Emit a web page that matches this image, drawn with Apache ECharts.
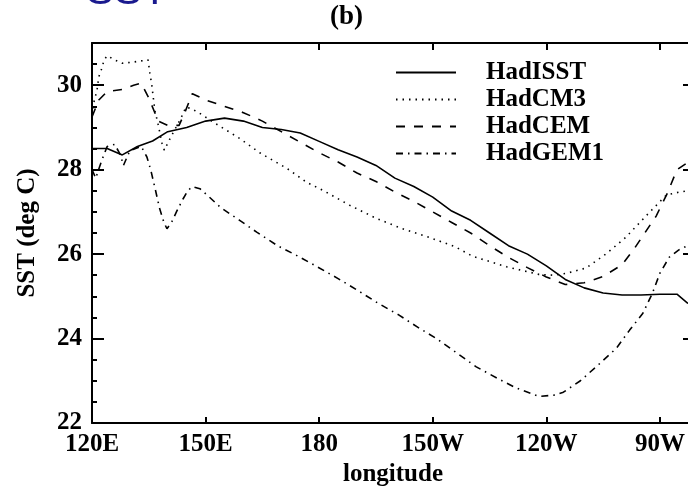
<!DOCTYPE html>
<html>
<head>
<meta charset="utf-8">
<script src="https://cdn.jsdelivr.net/npm/echarts@6/dist/echarts.min.js"></script>
<style>
  html, body { margin: 0; padding: 0; background: #fff; }
  #chart { width: 688px; height: 489px; }
</style>
</head>
<body>
<div id="chart"></div>
<script>
// longitude in degrees east, 120E .. ~81W
const xTickValues = [120, 150, 180, 210, 240, 270]
const xTickLabels = ['120E', '150E', '180', '150W', '120W', '90W']
const yTickLabels = [22, 24, 26, 28, 30]

const hadisstLon = [120, 124, 128, 132, 136, 140, 145, 150, 155, 160, 165, 170, 175, 180, 185, 190, 195, 200, 205, 210, 215, 220, 225, 230, 235, 240, 245, 250, 255, 260, 265, 270, 274.5, 277.3, 279]
const hadisstVal = [28.5, 28.5, 28.35, 28.55, 28.68, 28.9, 29.0, 29.15, 29.22, 29.15, 29.0, 28.95, 28.87, 28.67, 28.47, 28.3, 28.1, 27.8, 27.6, 27.35, 27.02, 26.8, 26.5, 26.2, 26.0, 25.72, 25.4, 25.2, 25.08, 25.03, 25.03, 25.05, 25.05, 24.84, 24.8]

const hadcm3Lon = [120, 120.5, 121.3, 121.8, 122.6, 123.2, 124, 126, 128, 131, 134.8, 135.3, 135.8, 136.6, 137.4, 138.5, 139.1, 140.8, 143.5, 144.8, 146.1, 148, 152.5, 159, 164.3, 171.5, 176.7, 181, 188, 195, 202, 209, 216, 220.5, 229.5, 238, 242, 245.5, 250.5, 256, 261, 266.5, 271.7, 275.2, 277.3, 279]
const hadcm3Val = [29.3, 29.6, 29.87, 30.2, 30.4, 30.6, 30.7, 30.6, 30.52, 30.55, 30.6, 30.28, 30.0, 29.4, 29.1, 28.62, 28.46, 28.77, 29.22, 29.48, 29.45, 29.36, 29.1, 28.74, 28.4, 28.03, 27.7, 27.51, 27.16, 26.85, 26.6, 26.4, 26.17, 25.95, 25.7, 25.52, 25.5, 25.55, 25.67, 26.02, 26.4, 26.92, 27.4, 27.47, 27.5, 27.5]

const hadcemLon = [120, 121.8, 124, 128, 131, 133, 135, 137.5, 140, 143, 144.5, 146.5, 150, 155, 160, 165, 170, 175, 180, 185, 190, 195, 200, 205, 210, 215, 220, 225, 230, 235, 240, 245, 250, 255, 260, 263, 266, 269, 272, 274.5, 277, 279]
const hadcemVal = [29.25, 29.65, 29.85, 29.9, 30.0, 30.05, 29.7, 29.15, 29.05, 29.05, 29.35, 29.8, 29.65, 29.5, 29.35, 29.15, 28.9, 28.65, 28.4, 28.18, 27.92, 27.72, 27.47, 27.25, 27.0, 26.75, 26.5, 26.2, 25.92, 25.68, 25.46, 25.28, 25.32, 25.47, 25.75, 26.1, 26.5, 26.9, 27.45, 28.0, 28.15, 28.25]

const hadgem1Lon = [120, 121, 122.5, 124, 126, 127.5, 128.3, 130, 133, 134.5, 135.5, 136.8, 137.8, 139, 139.8, 141, 142.3, 144, 145.3, 146.5, 148.5, 151, 154, 159, 163.5, 169, 174, 179.5, 185, 190, 195.5, 201, 206, 211, 216, 221.5, 227, 232, 238, 242, 244.5, 249, 254, 258.5, 262, 265.5, 268, 270, 272.5, 275, 277.3, 279]
const hadgem1Val = [28.0, 27.8, 28.2, 28.55, 28.6, 28.35, 28.1, 28.45, 28.55, 28.3, 28.0, 27.5, 27.1, 26.75, 26.6, 26.75, 27.0, 27.3, 27.5, 27.6, 27.55, 27.35, 27.1, 26.8, 26.52, 26.2, 25.97, 25.7, 25.42, 25.15, 24.84, 24.56, 24.27, 24.0, 23.68, 23.33, 23.06, 22.83, 22.63, 22.66, 22.73, 23.0, 23.4, 23.77, 24.2, 24.6, 25.07, 25.55, 25.93, 26.1, 26.2, 26.3]

const serif = '"Liberation Serif", "DejaVu Serif", serif'

function pairs (xs, ys) {
  return xs.map((x, i) => [x, ys[i]])
}

function lonLabel (v) {
  let i = xTickValues.indexOf(v)
  return i >= 0 ? xTickLabels[i] : ''
}

function yLabel (v) {
  return yTickLabels.indexOf(v) >= 0 ? String(v) : ''
}

function xAxisOf (pos, tickLen, showLabel) {
  return {
    type: 'value',
    position: pos,
    min: 120,
    max: 279,
    interval: 30,
    axisLine: { show: true, lineStyle: { color: '#000', width: 2 } },
    axisTick: { show: true, inside: true, length: tickLen, lineStyle: { color: '#000', width: 2 } },
    axisLabel: {
      show: showLabel,
      formatter: lonLabel,
      margin: 9,
      color: '#000',
      fontFamily: serif,
      fontWeight: 'bold',
      fontSize: 25
    },
    splitLine: { show: false }
  }
}

function yAxisOf (pos, interval, tickLen, showLine, showLabel) {
  return {
    type: 'value',
    position: pos,
    min: 22,
    max: 31,
    interval: interval,
    axisLine: { show: showLine, lineStyle: { color: '#000', width: 2 } },
    axisTick: { show: true, inside: true, length: tickLen, lineStyle: { color: '#000', width: 2 } },
    axisLabel: {
      show: showLabel,
      formatter: yLabel,
      margin: 10,
      color: '#000',
      fontFamily: serif,
      fontWeight: 'bold',
      fontSize: 25
    },
    splitLine: { show: false }
  }
}

let xMain = xAxisOf('bottom', 6, true)
xMain.name = 'longitude'
xMain.nameLocation = 'middle'
xMain.nameGap = 39
xMain.nameTextStyle = { color: '#000', fontFamily: serif, fontWeight: 'bold', fontSize: 25 }

let yMain = yAxisOf('left', 2, 12, true, true)
yMain.name = 'SST (deg C)'
yMain.nameLocation = 'middle'
yMain.nameGap = 52
yMain.nameTextStyle = { color: '#000', fontFamily: serif, fontWeight: 'bold', fontSize: 25 }

const chart = echarts.init(document.getElementById('chart'), null, { renderer: 'canvas' })

function lineSeries (name, data, type) {
  return {
    name: name,
    type: 'line',
    data: data,
    xAxisIndex: 0,
    yAxisIndex: 0,
    symbol: 'none',
    showSymbol: false,
    smooth: false,
    animation: false,
    itemStyle: { color: '#000' },
    lineStyle: { color: '#000', width: 1.6, type: type }
  }
}

chart.setOption({
  animation: false,
  backgroundColor: '#fff',
  title: {
    text: '(b)',
    left: 330,
    top: 4,
    padding: 0,
    textStyle: { color: '#000', fontFamily: serif, fontWeight: 'bold', fontSize: 27 }
  },
  graphic: [
    {
      type: 'text',
      x: 86,
      y: -29,
      style: { text: 'SST', fill: '#1a1a8e', font: '42px "Liberation Sans", sans-serif' }
    }
  ],
  legend: {
    orient: 'vertical',
    left: 395,
    top: 60,
    padding: 0,
    itemGap: 2,
    itemWidth: 60,
    itemHeight: 14,
    selectedMode: false,
    itemStyle: { opacity: 0 },
    textStyle: {
      color: '#000',
      fontFamily: serif,
      fontWeight: 'bold',
      fontSize: 25,
      lineHeight: 25,
      padding: [0, 0, 0, 25]
    },
    data: ['HadISST', 'HadCM3', 'HadCEM', 'HadGEM1']
  },
  grid: {
    left: 92,
    top: 43,
    width: 602,
    height: 380,
    containLabel: false,
    outerBoundsMode: 'none'
  },
  xAxis: [xMain, xAxisOf('top', 7, false)],
  yAxis: [
    yMain,
    yAxisOf('left', 0.5, 5, false, false),
    yAxisOf('right', 2, 11, true, false),
    yAxisOf('right', 0.5, 5, false, false)
  ],
  series: [
    lineSeries('HadISST', pairs(hadisstLon, hadisstVal), 'solid'),
    lineSeries('HadCM3', pairs(hadcm3Lon, hadcm3Val), [1.5, 5]),
    lineSeries('HadCEM', pairs(hadcemLon, hadcemVal), [9, 9]),
    lineSeries('HadGEM1', pairs(hadgem1Lon, hadgem1Val), [7, 5, 1.5, 5])
  ]
})
</script>
</body>
</html>
